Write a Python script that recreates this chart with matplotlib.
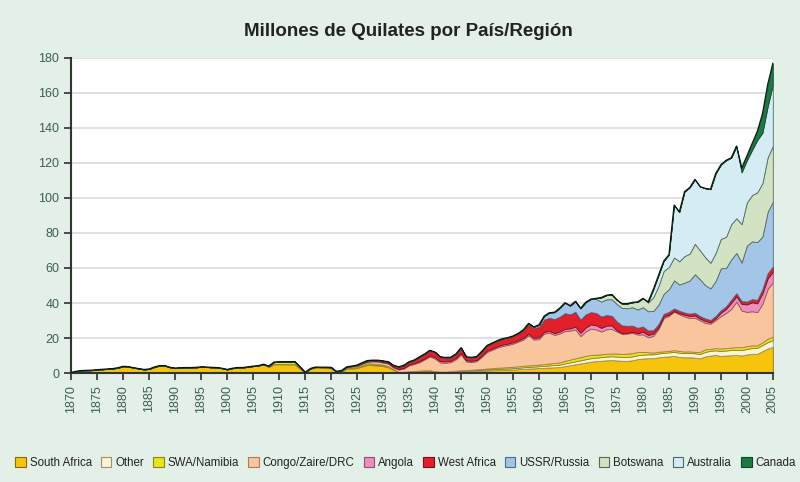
import numpy as np
import matplotlib
matplotlib.use("Agg")
import matplotlib.pyplot as plt
from matplotlib.patches import Patch

plt.rcParams["font.family"] = ["Liberation Sans", "DejaVu Sans"]

# world diamond production, millions of carats, one value per year 1870-2005
years = list(range(1870, 2006))

south_africa = [
    0.3, 1.0, 1.4, 1.5, 1.6, 1.9, 2.1, 2.3, 2.5, 3.0,
    3.8, 3.6, 3.0, 2.5, 2.0, 2.3, 3.4, 4.2, 4.2, 3.2,
    2.8, 3.0, 3.1, 3.1, 3.2, 3.5, 3.4, 3.2, 3.1, 2.7,
    2.0, 2.7, 3.1, 3.1, 3.5, 3.9, 4.2, 5.0, 3.4, 5.0,
    5.0, 5.0, 5.0, 5.0, 2.5, 0.3, 2.4, 3.2, 3.1, 3.1,
    2.6, 0.4, 0.6, 2.5, 2.6, 2.8, 3.8, 4.6, 4.5, 4.3,
    4.0, 3.3, 1.8, 0.3, 0.4, 0.5, 0.6, 0.8, 1.0, 1.0,
    0.5, 0.3, 0.3, 0.5, 0.8, 1.0, 1.0, 1.1, 1.2, 1.3,
    1.5, 1.6, 1.7, 1.8, 1.9, 2.0, 2.2, 2.4, 2.6, 2.7,
    2.9, 3.0, 3.2, 3.3, 3.4, 4.0, 4.5, 5.0, 5.5, 6.0,
    6.5, 6.8, 7.0, 7.3, 7.4, 7.2, 7.0, 7.0, 7.3, 8.0,
    8.3, 8.5, 8.5, 9.0, 9.3, 9.5, 9.8, 9.2, 9.0, 9.0,
    8.8, 8.4, 9.5, 10.0, 10.3, 9.8, 10.0, 10.2, 10.3, 10.0,
    10.6, 11.0, 11.0, 12.5, 14.0, 15.0,
]
other = [0.1] * 50 + [
    0.3, 0.2, 0.3, 0.3, 0.3, 0.3, 0.3, 0.3, 0.3, 0.3,
    0.3, 0.3, 0.4, 0.4, 0.4, 0.4, 0.4, 0.4, 0.4, 0.4,
    0.5, 0.5, 0.5, 0.5, 0.5, 0.5, 0.5, 0.5, 0.5, 0.5,
    0.6, 0.6, 0.7, 0.7, 0.7, 0.8, 0.8, 0.9, 0.9, 1.0,
    1.0, 1.1, 1.2, 1.3, 1.4, 1.5, 1.6, 1.7, 1.8, 1.9,
    2.0, 2.0, 2.1, 2.1, 2.2, 2.2, 2.2, 2.2, 2.2, 2.2,
    2.2, 2.2, 2.2, 2.2, 2.2, 2.3, 2.3, 2.4, 2.4, 2.5,
    2.5, 2.5, 2.6, 2.7, 2.7, 2.8, 2.9, 3.0, 3.0, 3.1,
    3.2, 3.3, 3.4, 3.5, 3.6, 3.8,
]
namibia = [0.0] * 30 + [
    0, 0, 0, 0, 0, 0, 0, 0, 0.5, 1.2,
    1.4, 1.4, 1.4, 1.5, 1.0, 0.0, 0.1, 0.1, 0.1, 0.1,
    0.3, 0.2, 0.3, 0.5, 0.6, 0.6, 0.7, 0.7, 0.6, 0.6,
    0.5, 0.3, 0.1, 0.0, 0.0, 0.1, 0.2, 0.2, 0.2, 0.2,
    0.1, 0.05, 0.05, 0.05, 0.05, 0.1, 0.2, 0.3, 0.4, 0.5,
    0.5, 0.6, 0.7, 0.7, 0.8, 0.8, 0.9, 0.9, 0.9, 0.9,
    1.0, 1.0, 1.1, 1.2, 1.3, 1.5, 1.6, 1.7, 1.8, 1.9,
    1.9, 1.7, 1.6, 1.6, 1.6, 1.8, 1.7, 1.9, 1.9, 1.8,
    1.6, 1.2, 1.0, 1.0, 0.9, 0.9, 1.0, 1.0, 0.9, 0.9,
    0.8, 1.2, 1.5, 1.1, 1.3, 1.4, 1.4, 1.4, 1.5, 1.6,
    1.6, 1.5, 1.4, 1.5, 2.0, 2.0,
]
congo = [0.0] * 40 + [
    0, 0, 0, 0.01, 0.02, 0.05, 0.05, 0.1, 0.1, 0.1,
    0.1, 0.2, 0.3, 0.3, 0.4, 0.6, 0.7, 0.9, 1.3, 1.3,
    1.2, 1.5, 0.9, 1.3, 1.8, 3.4, 4.0, 4.8, 6.2, 7.9,
    7.1, 5.2, 5.0, 5.2, 6.5, 9.1, 4.9, 4.4, 4.7, 7.0,
    9.5, 10.5, 11.5, 12.3, 12.6, 13.2, 14.0, 15.0, 17.2, 14.5,
    14.5, 17.5, 17.5, 16.0, 16.5, 17.0, 16.5, 16.5, 12.0, 14.0,
    15.0, 14.4, 13.0, 14.0, 14.0, 12.5, 11.5, 11.5, 11.5, 10.0,
    10.0, 8.5, 9.5, 13.0, 19.0, 20.0, 22.0, 21.0, 20.0, 19.0,
    19.5, 18.0, 15.0, 14.4, 16.0, 18.5, 20.0, 22.0, 26.0, 21.0,
    19.5, 19.5, 19.0, 22.0, 28.4, 31.0,
]
angola = [0.0] * 50 + [
    0, 0, 0, 0, 0.05, 0.1, 0.1, 0.2, 0.2, 0.3,
    0.3, 0.3, 0.3, 0.4, 0.4, 0.5, 0.5, 0.6, 0.6, 0.7,
    0.8, 0.8, 0.8, 0.8, 0.8, 0.8, 0.7, 0.7, 0.7, 0.7,
    0.7, 0.7, 0.7, 0.8, 0.8, 0.8, 0.8, 0.9, 0.9, 1.0,
    1.0, 1.0, 1.0, 1.0, 1.1, 1.2, 1.3, 1.6, 1.9, 2.2,
    2.4, 2.4, 2.1, 2.1, 2.0, 0.7, 0.3, 0.4, 0.7, 0.8,
    1.5, 1.4, 1.3, 1.0, 0.9, 0.7, 0.3, 0.6, 1.0, 1.2,
    1.3, 1.0, 1.2, 0.8, 1.0, 2.0, 2.3, 3.5, 3.0, 3.8,
    4.3, 5.1, 5.0, 6.0, 6.0, 6.0,
]
west_africa = [0.0] * 50 + [
    0, 0, 0, 0, 0.1, 0.2, 0.4, 0.5, 0.5, 0.6,
    0.7, 0.8, 1.0, 1.2, 1.5, 1.6, 1.8, 2.5, 2.6, 2.8,
    3.0, 2.5, 2.3, 2.0, 2.3, 3.0, 2.0, 2.0, 2.0, 2.5,
    3.0, 3.2, 3.3, 3.4, 3.5, 3.6, 4.0, 4.5, 5.5, 5.5,
    6.0, 7.0, 7.5, 8.0, 8.5, 9.0, 8.0, 8.5, 7.5, 7.5,
    7.0, 7.0, 6.5, 6.0, 5.5, 5.0, 4.5, 4.0, 3.5, 3.0,
    3.0, 2.5, 2.0, 1.8, 1.5, 1.5, 1.5, 1.4, 1.3, 1.3,
    1.5, 1.4, 1.4, 1.3, 1.3, 1.3, 1.5, 1.8, 1.8, 1.6,
    1.6, 1.8, 2.0, 2.5, 3.0, 3.0,
]
ussr = [0.0] * 80 + [
    0, 0, 0, 0, 0, 0, 0, 0.2, 0.4, 0.8,
    1.2, 2.0, 3.0, 4.0, 5.0, 6.0, 5.0, 6.0, 6.5, 7.0,
    7.5, 8.0, 8.5, 9.0, 9.5, 10.0, 10.0, 10.0, 10.5, 10.5,
    11.0, 11.0, 11.0, 11.0, 11.5, 13.0, 16.0, 15.0, 17.0, 19.0,
    22.0, 21.0, 19.0, 18.0, 20.0, 24.0, 22.0, 23.0, 23.0, 22.0,
    32.0, 33.0, 33.0, 30.0, 35.0, 37.0,
]
botswana = [0.0] * 100 + [
    0, 0.4, 2.4, 2.4, 2.7, 2.4, 2.4, 2.7, 2.8, 4.4,
    5.1, 5.0, 7.8, 10.7, 13.0, 12.6, 13.1, 13.2, 15.2, 15.3,
    17.4, 16.5, 15.9, 14.7, 16.0, 16.8, 17.7, 20.1, 19.8, 21.9,
    24.6, 26.4, 28.4, 30.4, 31.1, 31.9,
]
australia = [0.0] * 110 + [
    0, 0.4, 4.5, 6.2, 5.7, 7.1, 30.0, 28.2, 36.8, 37.8,
    36.8, 36.5, 39.4, 42.0, 45.4, 42.4, 43.7, 38.0, 41.0, 29.6,
    24.0, 25.7, 29.8, 28.8, 29.0, 35.0,
]
canada = [0.0] * 128 + [0.3, 2.4, 2.6, 3.7, 5.0, 10.8, 12.6, 12.3]

labels = ["South Africa", "Other", "SWA/Namibia", "Congo/Zaire/DRC", "Angola",
          "West Africa", "USSR/Russia", "Botswana", "Australia", "Canada"]
series = [south_africa, other, namibia, congo, angola,
          west_africa, ussr, botswana, australia, canada]
colors = ["#f6c40b", "#fbf3d2", "#e9e31e", "#f8c59d", "#ec8fbf",
          "#e3202a", "#a3c5e8", "#d2e3c3", "#d6ecf4", "#1c7a44"]
edges = ["#8a6a10", "#9a9270", "#8a8410", "#b07a55", "#9a4a70",
         "#7a1015", "#4a6a8a", "#5a6a50", "#4a6a70", "#0c4a24"]

bg = "#e2f0e8"
fig = plt.figure(figsize=(8, 4.82), dpi=100, facecolor=bg)
ax = fig.add_axes([0.089, 0.226, 0.877, 0.654])
ax.set_facecolor("white")

for yv in range(20, 181, 20):
    ax.axhline(yv, color="#dcdfdc", lw=1.3, zorder=0)

polys = ax.stackplot(years, *series, colors=colors, zorder=2)
for p, ec in zip(polys, edges):
    p.set_edgecolor(ec)
    p.set_linewidth(0.6)

total = np.sum(np.array(series), axis=0)
ax.plot(years, total, color="#111111", lw=0.8, zorder=3)

ax.set_xlim(1870, 2005)
ax.set_ylim(0, 180)
ax.set_xticks(range(1870, 2006, 5))
ax.set_yticks(range(0, 181, 20))
ax.tick_params(axis="x", labelrotation=90, labelsize=9, colors="#2f2f2f",
               labelcolor="#3c5e52", length=5, width=1.2, direction="out")
ax.tick_params(axis="y", labelsize=9, colors="#2f2f2f",
               labelcolor="#3c5e52", length=5, width=1.2, direction="out")
for s in ["top", "right"]:
    ax.spines[s].set_visible(False)
for s in ["left", "bottom"]:
    ax.spines[s].set_color("#333333")
    ax.spines[s].set_linewidth(1.5)

fig.text(0.51, 0.935, "Millones de Quilates por País/Región", ha="center",
         va="center", fontsize=13.5, fontweight="bold", color="#222222")

handles = [Patch(facecolor=c, edgecolor=e, lw=0.8) for c, e in zip(colors, edges)]
fig.legend(handles, labels, loc="center", bbox_to_anchor=(0.507, 0.04), ncol=10,
           frameon=False, fontsize=8.3, handlelength=0.9, handleheight=0.9,
           handletextpad=0.35, columnspacing=0.8, borderpad=0.2,
           labelcolor="#222222")

fig.savefig("out.png", dpi=100, facecolor=bg)
